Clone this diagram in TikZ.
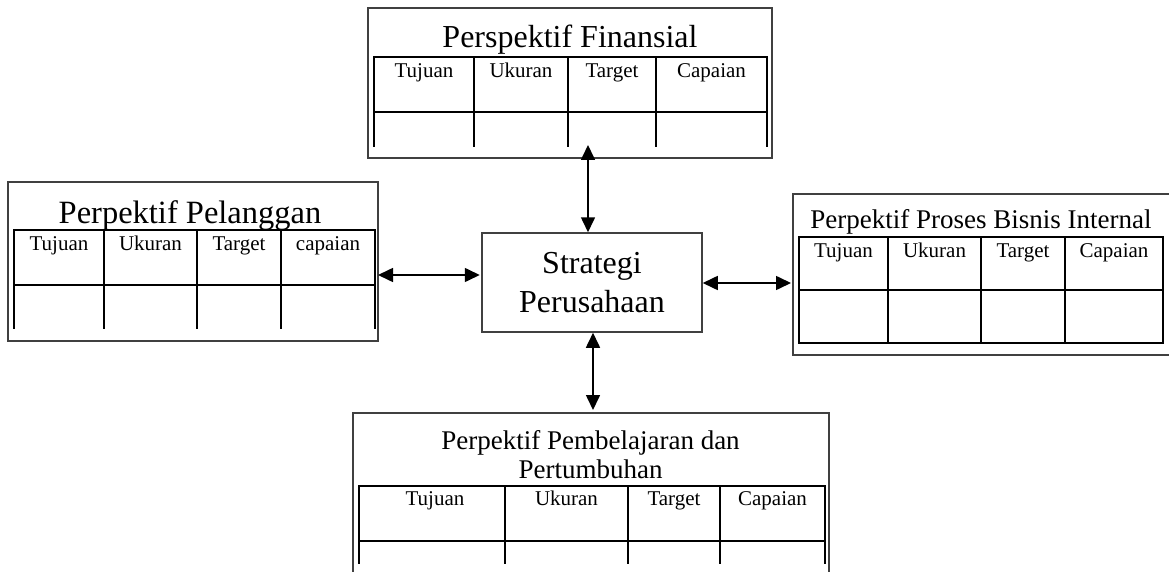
\documentclass[tikz,border=0pt]{standalone}
\usepackage{fontspec}
\setmainfont{Liberation Serif}
\usetikzlibrary{arrows.meta,positioning}
\tikzset{>={Triangle[length=15pt,width=14pt]}}
\tikzset{
  persp/.style={draw=black!75, line width=1.5pt, inner sep=0pt},
  garis/.style={black, line width=2.5pt},
  judul/.style={inner sep=0pt, anchor=base, font=\fontsize{32}{38}\selectfont},
  subjudul/.style={inner sep=0pt, anchor=base, font=\fontsize{27}{32}\selectfont},
  kolom/.style={inner sep=0pt, anchor=base, font=\fontsize{21}{25}\selectfont},
  link/.style={<->, line width=1.6pt},
}

\begin{document}
\begin{tikzpicture}[x=1pt,y=-1pt]
  \useasboundingbox (0,0) rectangle (1169,572);
  \clip (0,0) rectangle (1169,572);
  \fill[white] (0,0) rectangle (1169,572);

  % strategi di tengah
  \node[persp, minimum width=220pt, minimum height=99pt, align=center,
        font=\fontsize{32}{39}\selectfont] (strat) at (592,282.5) {Strategi\\Perusahaan};

  % perspektif finansial
  \node[persp, minimum width=404pt, minimum height=150pt] (fin) at (570,83) {};
  \node[judul] (fintitle) at (570,48) {Perspektif Finansial};
  \draw[garis, line cap=rect] (374,57) -- (767,57) (374,112) -- (767,112);
  \foreach \x in {374,474,568,656,767} \draw[garis] (\x,57) -- (\x,147);
  \foreach \t/\x in {Tujuan/424,Ukuran/521,Target/612,Capaian/711.5}
    \node[kolom] (fin\t) at (\x,78) {\t};

  % perspektif pelanggan
  \node[persp, minimum width=370pt, minimum height=159pt] (pel) at (193,261.5) {};
  \node[judul, font=\fontsize{32.5}{38}\selectfont] (peltitle) at (190,223) {Perpektif Pelanggan};
  \draw[garis, line cap=rect] (14,230) -- (375,230) (14,285) -- (375,285);
  \foreach \x in {14,104,197,281,375} \draw[garis] (\x,230) -- (\x,329);
  \foreach \t/\x in {Tujuan/59,Ukuran/150.5,Target/239,capaian/328}
    \node[kolom] (pel\t) at (\x,250) {\t};

  % perspektif proses bisnis internal
  \node[persp, minimum width=378pt, minimum height=161pt] (proc) at (982,274.5) {};
  \node[subjudul] (proctitle) at (981,228) {Perpektif Proses Bisnis Internal};
  \draw[garis] (799,237) rectangle (1163,343) (799,290) -- (1163,290);
  \foreach \x in {888,981,1065} \draw[garis] (\x,237) -- (\x,343);
  \foreach \t/\x in {Tujuan/843.5,Ukuran/934.5,Target/1023,Capaian/1114}
    \node[kolom] (proc\t) at (\x,257) {\t};

  % perspektif pembelajaran dan pertumbuhan
  \node[persp, minimum width=476pt, minimum height=187pt] (pem) at (591,506.5) {};
  \node[subjudul] (pemtitle) at (590.5,449) {Perpektif Pembelajaran dan};
  \node[subjudul] (pemtitleb) at (590.5,478) {Pertumbuhan};
  \draw[garis, line cap=rect] (359,486) -- (825,486) (359,541) -- (825,541);
  \foreach \x in {359,505,628,720,825} \draw[garis] (\x,486) -- (\x,564);
  \foreach \t/\x in {Tujuan/435,Ukuran/566.5,Target/674,Capaian/772.5}
    \node[kolom] (pem\t) at (\x,505) {\t};

  % panah dua arah
  \coordinate (finend) at (588,145);
  \coordinate (pelend) at (378,275);
  \coordinate (procend) at (791,283);
  \coordinate (pemend) at (593,410);
  \draw[link] (finend) -- (finend |- strat.north);
  \draw[link, shorten >=1.5pt] (pelend) -- (pelend -| strat.west);
  \draw[link] (strat.east |- procend) -- (procend);
  \draw[link] (strat.south -| pemend) -- (pemend);
\end{tikzpicture}
\end{document}
